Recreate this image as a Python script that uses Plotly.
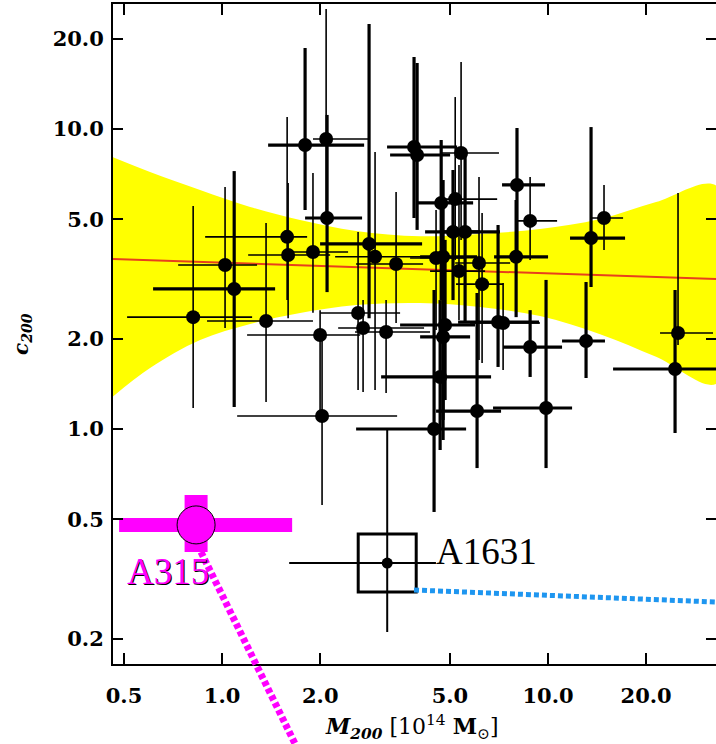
import plotly.graph_objects as go
import numpy as np

# ---------------- data ----------------
# clusters drawn with thick error bars
thick_M    = [1.089, 1.797, 2.099, 2.824, 3.88, 3.965, 4.70, 5.11, 5.565, 4.764, 4.831, 4.764, 7.025, 4.665, 6.056, 4.47, 8.03, 7.98, 8.81, 13.55, 13.08, 9.86, 24.53]
thick_c    = [2.93, 8.84, 5.05, 4.14, 8.71, 8.19, 5.67, 4.54, 4.54, 3.75, 2.222, 2.027, 2.273, 1.491, 1.148, 1.0, 6.51, 3.75, 1.876, 4.33, 1.965, 1.175, 1.585]
thick_M_lo = [0.614, 1.384, 1.797, 1.998, 3.207, 3.276, 3.965, 4.195, 4.665, 4.05, 3.516, 4.05, 5.296, 3.075, 4.533, 2.577, 7.225, 6.83, 7.28, 11.68, 11.04, 6.78, 15.83]
thick_M_hi = [1.454, 2.727, 2.688, 4.107, 5.26, 5.006, 5.89, 6.18, 7.12, 6.056, 5.97, 5.765, 9.385, 6.686, 7.175, 5.605, 9.79, 10.0, 11.04, 17.23, 14.95, 11.85, 36.0]
thick_c_lo = [1.184, 5.37, 2.86, 2.34, 5.05, 4.61, 2.69, 2.69, 2.256, 1.072, 1.249, 0.919, 1.61, 0.851, 0.741, 0.529, 3.66, 2.36, 1.491, 2.974, 1.479, 0.741, 0.97]
thick_c_hi = [7.24, 18.62, 11.14, 22.4, 17.38, 16.6, 9.19, 7.30, 8.32, 6.76, 4.27, 2.906, 4.786, 2.69, 2.84, 2.906, 10.08, 5.80, 2.49, 10.15, 3.09, 3.14, 2.906]

# clusters drawn with thin error bars
thin_M    = [0.815, 1.021, 1.364, 1.583, 1.594, 2.085, 1.90, 2.946, 3.418, 5.41, 5.19, 4.533, 5.33, 6.14, 6.275, 2.613, 2.707, 1.998, 3.185, 7.28, 2.026, 8.81, 14.85, 25.05]
thin_c    = [2.36, 3.52, 2.29, 4.37, 3.80, 9.26, 3.89, 3.75, 3.55, 8.32, 5.84, 3.715, 3.36, 3.575, 3.04, 2.436, 2.17, 2.058, 2.106, 2.256, 1.105, 4.94, 5.05, 2.089]
thin_M_lo = [0.511, 0.733, 0.899, 0.887, 1.202, 1.90, 1.617, 2.222, 2.577, 4.665, 4.565, 3.773, 4.345, 5.19, 5.22, 1.998, 2.27, 1.193, 2.558, 5.765, 1.112, 8.03, 13.45, 22.06]
thin_M_hi = [1.236, 1.280, 1.90, 1.823, 2.145, 2.824, 2.435, 4.665, 4.136, 7.07, 6.98, 5.565, 6.41, 7.65, 7.28, 3.516, 4.165, 2.651, 4.345, 9.45, 3.443, 10.66, 16.99, 32.07]
thin_c_lo = [1.175, 2.17, 1.23, 2.69, 2.34, 5.25, 2.44, 1.349, 2.256, 4.27, 3.66, 2.138, 2.31, 1.698, 1.66, 1.349, 1.328, 1.072, 1.318, 1.573, 0.558, 3.66, 3.95, 1.905]
thin_c_hi = [5.54, 6.41, 4.86, 10.96, 6.61, 25.1, 7.14, 8.38, 6.17, 16.72, 12.78, 5.37, 7.59, 6.92, 5.25, 4.54, 2.69, 2.49, 2.69, 3.066, 2.138, 6.92, 6.51, 6.12]

# highlighted clusters
a315_M, a315_c = [0.832], [0.479]
a315_M_lo, a315_M_hi = [0.483], [1.64]
a315_c_lo, a315_c_hi = [0.389], [0.603]

a1631_M, a1631_c = [3.21], [0.3575]
a1631_M_lo, a1631_M_hi = [1.606], [4.53]
a1631_c_lo, a1631_c_hi = [0.2105], [1.008]

# best-fit c-M relation and its confidence band
fit_M = [0.46, 33.0]
fit_c = [3.69, 3.16]
band_M     = [0.46, 0.601, 0.856, 1.219, 1.735, 2.577, 4.05, 6.18, 9.45, 14.44, 21.45, 33.0]
band_upper = [8.07, 7.19, 6.26, 5.50, 4.97, 4.57, 4.39, 4.47, 4.64, 5.01, 5.71, 6.45]
band_lower = [1.278, 1.597, 1.98, 2.24, 2.436, 2.59, 2.63, 2.55, 2.38, 2.07, 1.74, 1.42]

x_ticks = [0.5, 1, 2, 5, 10, 20]
x_ticktext = ["0.5", "1.0", "2.0", "5.0", "10.0", "20.0"]
y_ticks = [0.2, 0.5, 1, 2, 5, 10, 20]
y_ticktext = ["0.2", "0.5", "1.0", "2.0", "5.0", "10.0", "20.0"]


def errs(v, lo, hi):
    v, lo, hi = np.array(v), np.array(lo), np.array(hi)
    return (hi - v).tolist(), (v - lo).tolist()


fig = go.Figure()

# yellow band
fig.add_trace(go.Scatter(
    x=band_M + band_M[::-1], y=band_upper + band_lower[::-1],
    fill="toself", fillcolor="#FFFF00", mode="lines",
    line=dict(width=0, color="#FFFF00", shape="spline"), hoverinfo="skip"))

# fit line
fig.add_trace(go.Scatter(x=fit_M, y=fit_c, mode="lines",
                         line=dict(color="#E8401C", width=2)))


def add_points(M, c, Mlo, Mhi, clo, chi, thick, size):
    xp, xm = errs(M, Mlo, Mhi)
    yp, ym = errs(c, clo, chi)
    fig.add_trace(go.Scatter(
        x=M, y=c, mode="markers",
        marker=dict(color="black", size=size),
        error_x=dict(type="data", symmetric=False, array=xp, arrayminus=xm,
                     color="black", thickness=thick, width=0),
        error_y=dict(type="data", symmetric=False, array=yp, arrayminus=ym,
                     color="black", thickness=thick, width=0)))


add_points(thin_M, thin_c, thin_M_lo, thin_M_hi, thin_c_lo, thin_c_hi, 1.6, 14)
add_points(thick_M, thick_c, thick_M_lo, thick_M_hi, thick_c_lo, thick_c_hi, 3.2, 14)

# A1631
add_points(a1631_M, a1631_c, a1631_M_lo, a1631_M_hi, a1631_c_lo, a1631_c_hi, 2, 11)
fig.add_trace(go.Scatter(x=a1631_M, y=a1631_c, mode="markers",
                         marker=dict(symbol="square-open", size=58, color="black",
                                     line=dict(width=3, color="black"))))

# A315
xp, xm = errs(a315_M, a315_M_lo, a315_M_hi)
yp, ym = errs(a315_c, a315_c_lo, a315_c_hi)
fig.add_trace(go.Scatter(
    x=a315_M, y=a315_c, mode="markers",
    marker=dict(color="#FF00FF", size=38, line=dict(color="black", width=1)),
    error_x=dict(type="data", symmetric=False, array=xp, arrayminus=xm,
                 color="#FF00FF", thickness=14, width=0),
    error_y=dict(type="data", symmetric=False, array=yp, arrayminus=ym,
                 color="#FF00FF", thickness=23, width=0)))

tickfont = dict(family="DejaVu Serif", size=21, color="black", weight="bold")
axis_common = dict(type="log", ticks="inside", tickwidth=2, tickcolor="black",
                   showline=True, linewidth=2, linecolor="black", mirror="ticks",
                   showgrid=False, zeroline=False, tickfont=tickfont,
                   automargin=False)

fig.update_layout(
    width=716, height=744,
    margin=dict(l=113, r=0, t=4, b=80, autoexpand=False),
    plot_bgcolor="white", paper_bgcolor="white",
    showlegend=False,
    xaxis=dict(range=[-0.3348, 1.5153], tickvals=x_ticks, ticktext=x_ticktext,
               ticklen=11, ticklabelstandoff=12, **axis_common),
    yaxis=dict(range=[-0.7833, 1.4167], tickvals=y_ticks, ticktext=y_ticktext,
               ticklen=10, ticklabelstandoff=3, **axis_common),
    shapes=[
        dict(type="line", xref="paper", yref="paper", x0=0.1459, y0=0.1697,
             x1=0.3151, y1=-0.1455, line=dict(color="#FF00FF", width=7, dash="5px,3px")),
        dict(type="line", xref="paper", yref="paper", x0=0.4992, y0=0.1121,
             x1=1.0, y1=0.0939, line=dict(color="#1E96F0", width=5, dash="5px,3px")),
    ],
    annotations=[
        dict(text="A315", xref="paper", yref="paper", x=0.0912, y=0.1394,
             showarrow=False, xanchor="center", yanchor="middle",
             font=dict(family="Liberation Serif", size=37, color="#FF00FF",
                       shadow="1px 1px 0px black")),
        dict(text="A1631", xref="paper", yref="paper", x=0.5323, y=0.1697,
             showarrow=False, xanchor="left", yanchor="middle",
             font=dict(family="Liberation Serif", size=37, color="black")),
        dict(text="<b><i>M</i></b><sub><b><i>200</i></b></sub> [10<sup>14</sup> <b>M</b><sub>⊙</sub>]",
             xref="paper", yref="paper", x=0.496, y=-0.0955, showarrow=False,
             xanchor="center", yanchor="middle",
             font=dict(family="DejaVu Serif", size=22, color="black")),
        dict(text="<b><i>c</i></b><sub><b><i>200</i></b></sub>",
             xref="paper", yref="paper", x=-0.1509, y=0.5, showarrow=False,
             textangle=-90, xanchor="center", yanchor="middle",
             font=dict(family="DejaVu Serif", size=20, color="black")),
    ],
)

fig.write_html("out.html", config={"displayModeBar": False},
               post_script="document.body.style.margin='0';document.body.style.overflow='hidden';")
